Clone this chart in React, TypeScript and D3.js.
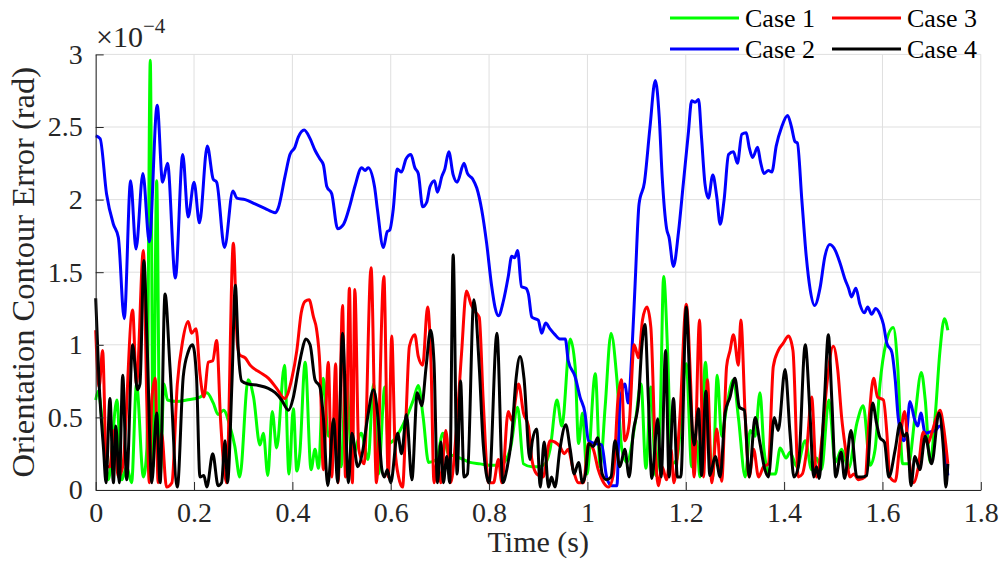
import { useRef, useEffect } from "react";
import * as d3 from "d3";

const WIDTH = 1007;
const HEIGHT = 582;
const PLOT = { left: 95.7, right: 980.8, top: 54.4, bottom: 490 };

const X_TICKS = [0, 0.2, 0.4, 0.6, 0.8, 1, 1.2, 1.4, 1.6, 1.8];
const Y_TICKS = [0, 0.5, 1, 1.5, 2, 2.5, 3];
const SERIES_NAMES = ["Case 1", "Case 2", "Case 3", "Case 4"];
const SERIES_COLORS = ["#00ff00", "#0000ff", "#ff0000", "#000000"];

// [time (s), error (x1e-4 rad)] read at the peaks and troughs of each trace
const case1: [number, number][] = [
  [0, 0.62], [0.005, 0.68], [0.016, 0.37], [0.026, 0.07], [0.043, 0.62], [0.053, 0.07], [0.063, 0.16],
  [0.073, 0.05], [0.083, 0.73], [0.097, 0.09], [0.104, 0.28], [0.111, 2.96], [0.117, 0.16], [0.124, 2.13],
  [0.131, 0.09], [0.139, 0.73], [0.146, 0.62], [0.165, 0.61], [0.185, 0.62], [0.212, 0.64], [0.226, 0.67],
  [0.239, 0.6], [0.249, 0.52], [0.26, 0.55], [0.273, 0.44], [0.283, 0.3], [0.293, 0.09], [0.31, 0.76],
  [0.321, 0.64], [0.334, 0.31], [0.341, 0.39], [0.35, 0.1], [0.359, 0.54], [0.368, 0.29], [0.384, 0.86],
  [0.393, 0.11], [0.402, 0.56], [0.409, 0.13], [0.415, 0.25], [0.426, 0.88], [0.438, 0.14], [0.446, 0.28],
  [0.453, 0.15], [0.463, 0.77], [0.473, 0.37], [0.487, 0.5], [0.499, 0.16], [0.509, 0.79], [0.521, 0.22],
  [0.54, 0.39], [0.554, 0.21], [0.565, 0.73], [0.575, 0.11], [0.588, 0.71], [0.595, 0.32], [0.605, 0.34],
  [0.619, 0.41], [0.632, 0.5], [0.646, 0.62], [0.656, 0.72], [0.666, 0.5], [0.677, 0.19], [0.693, 0.21],
  [0.706, 0.39], [0.717, 0.25], [0.734, 0.23], [0.748, 0.21], [0.761, 0.19], [0.782, 0.18], [0.802, 0.17],
  [0.822, 0.17], [0.843, 0.28], [0.858, 0.57], [0.87, 0.18], [0.887, 0.16], [0.9, 0.16], [0.914, 0.18],
  [0.924, 0.28], [0.938, 0.62], [0.948, 0.44], [0.965, 1.04], [0.975, 0.85], [0.982, 0.32], [0.99, 0.53],
  [0.999, 0.11], [1.016, 0.8], [1.026, 0.16], [1.036, 0.57], [1.048, 1.08], [1.06, 0.76], [1.07, 0.28],
  [1.08, 0.19], [1.097, 0.46], [1.109, 0.73], [1.119, 0.15], [1.129, 0.71], [1.139, 0.1], [1.148, 0.5],
  [1.155, 1.47], [1.163, 0.96], [1.171, 0.18], [1.182, 0.21], [1.201, 0.87], [1.212, 0.16], [1.222, 0.34],
  [1.229, 0.09], [1.24, 0.88], [1.249, 0.28], [1.255, 0.09], [1.264, 0.79], [1.273, 0.37], [1.283, 0.57],
  [1.297, 0.76], [1.307, 0.5], [1.321, 0.09], [1.331, 0.41], [1.341, 0.37], [1.351, 0.67], [1.359, 0.28],
  [1.37, 0.11], [1.382, 0.11], [1.392, 0.29], [1.404, 0.22], [1.412, 0.26], [1.426, 0.16], [1.443, 0.34],
  [1.456, 0.14], [1.466, 0.22], [1.476, 0.14], [1.491, 0.62], [1.504, 0.19], [1.517, 0.28], [1.531, 0.15],
  [1.548, 0.46], [1.561, 0.58], [1.575, 0.17], [1.585, 0.28], [1.595, 0.73], [1.607, 1.01], [1.622, 1.12],
  [1.631, 0.85], [1.641, 0.18], [1.653, 0.18], [1.666, 0.5], [1.679, 0.81], [1.687, 0.62], [1.697, 0.19],
  [1.707, 0.5], [1.717, 0.96], [1.726, 1.18], [1.733, 1.1],
];

const case2: [number, number][] = [
  [0, 2.44], [0.009, 2.42], [0.022, 2.04], [0.036, 1.83], [0.046, 1.74], [0.058, 1.18], [0.071, 2.13],
  [0.082, 1.66], [0.096, 2.18], [0.109, 1.71], [0.125, 2.65], [0.136, 2.12], [0.146, 2.25], [0.162, 1.46],
  [0.177, 2.31], [0.188, 1.88], [0.2, 2.12], [0.211, 1.84], [0.227, 2.37], [0.239, 2.14], [0.246, 2.12],
  [0.262, 1.67], [0.279, 2.06], [0.287, 2.01], [0.304, 2.0], [0.324, 1.97], [0.344, 1.94], [0.365, 1.91],
  [0.371, 1.94], [0.385, 2.16], [0.395, 2.31], [0.405, 2.36], [0.412, 2.43], [0.424, 2.48], [0.436, 2.42],
  [0.446, 2.34], [0.456, 2.28], [0.463, 2.24], [0.47, 2.09], [0.48, 2.04], [0.492, 1.8], [0.504, 1.83],
  [0.517, 1.96], [0.527, 2.09], [0.541, 2.22], [0.548, 2.2], [0.554, 2.22], [0.567, 2.09], [0.573, 1.93],
  [0.585, 1.67], [0.593, 1.78], [0.598, 1.79], [0.605, 1.93], [0.613, 2.21], [0.622, 2.19], [0.631, 2.28],
  [0.641, 2.31], [0.649, 2.22], [0.656, 2.18], [0.665, 1.95], [0.673, 1.98], [0.68, 2.09], [0.689, 2.13],
  [0.695, 2.05], [0.704, 2.16], [0.71, 2.21], [0.718, 2.33], [0.727, 2.17], [0.735, 2.12], [0.749, 2.25],
  [0.756, 2.18], [0.767, 2.14], [0.775, 2.08], [0.785, 1.93], [0.795, 1.7], [0.805, 1.41], [0.812, 1.26],
  [0.819, 1.2], [0.829, 1.3], [0.839, 1.47], [0.846, 1.61], [0.852, 1.6], [0.858, 1.65], [0.866, 1.4],
  [0.875, 1.39], [0.88, 1.35], [0.887, 1.19], [0.9, 1.17], [0.907, 1.08], [0.915, 1.15], [0.924, 1.11],
  [0.934, 1.07], [0.944, 1.04], [0.955, 1.04], [0.961, 0.89], [0.975, 0.78], [0.985, 0.64], [0.995, 0.53],
  [1.002, 0.34], [1.016, 0.32], [1.029, 0.31], [1.039, 0.09], [1.049, 0.03], [1.06, 0.03], [1.066, 0.6],
  [1.076, 0.73], [1.083, 0.6], [1.09, 0.92], [1.097, 1.42], [1.105, 1.97], [1.116, 2.12], [1.127, 2.49],
  [1.138, 2.82], [1.146, 2.57], [1.152, 2.16], [1.161, 1.8], [1.166, 1.74], [1.175, 1.54], [1.185, 1.77],
  [1.195, 2.11], [1.205, 2.45], [1.212, 2.68], [1.219, 2.67], [1.226, 2.69], [1.232, 2.43], [1.239, 2.11],
  [1.246, 2.01], [1.255, 2.17], [1.263, 2.02], [1.27, 1.83], [1.278, 2.0], [1.287, 2.31], [1.297, 2.33],
  [1.305, 2.25], [1.314, 2.45], [1.323, 2.46], [1.329, 2.36], [1.336, 2.29], [1.346, 2.36], [1.352, 2.26],
  [1.359, 2.18], [1.368, 2.2], [1.375, 2.19], [1.384, 2.37], [1.395, 2.5], [1.407, 2.58], [1.415, 2.5],
  [1.422, 2.4], [1.427, 2.39], [1.436, 2.0], [1.445, 1.61], [1.453, 1.38], [1.462, 1.27], [1.473, 1.39],
  [1.483, 1.61], [1.493, 1.69], [1.504, 1.65], [1.514, 1.56], [1.524, 1.45], [1.531, 1.39], [1.537, 1.33],
  [1.546, 1.39], [1.554, 1.28], [1.563, 1.22], [1.57, 1.26], [1.578, 1.21], [1.586, 1.25], [1.595, 1.21],
  [1.602, 1.14], [1.609, 1.01], [1.619, 0.95], [1.626, 0.76], [1.632, 0.5], [1.643, 0.34], [1.649, 0.39],
  [1.656, 0.61], [1.665, 0.49], [1.672, 0.44], [1.678, 0.53], [1.687, 0.39], [1.697, 0.4], [1.707, 0.41],
  [1.717, 0.44], [1.733, 0.1],
];

const case3: [number, number][] = [
  [0, 1.1], [0.007, 0.71], [0.014, 0.96], [0.022, 0.16], [0.029, 0.16], [0.037, 0.41], [0.046, 0.09],
  [0.055, 0.16], [0.075, 1.24], [0.083, 0.73], [0.097, 1.65], [0.104, 0.6], [0.109, 0.05], [0.114, 0.62],
  [0.121, 0.77], [0.127, 0.05], [0.134, 0.39], [0.144, 0.02], [0.155, 0.05], [0.166, 0.73], [0.177, 1.03],
  [0.188, 1.16], [0.195, 1.08], [0.204, 1.11], [0.212, 0.8], [0.22, 0.64], [0.229, 0.88], [0.238, 0.89],
  [0.246, 1.03], [0.254, 0.48], [0.266, 0.05], [0.28, 1.7], [0.288, 1.01], [0.293, 0.93], [0.304, 0.91],
  [0.314, 0.86], [0.334, 0.81], [0.351, 0.77], [0.368, 0.7], [0.384, 0.63], [0.399, 0.77], [0.409, 0.96],
  [0.418, 1.22], [0.426, 1.3], [0.434, 1.31], [0.443, 1.19], [0.449, 1.11], [0.456, 0.85], [0.463, 0.14],
  [0.473, 0.88], [0.48, 0.09], [0.488, 0.87], [0.493, 0.05], [0.502, 1.27], [0.508, 0.09], [0.516, 1.39],
  [0.522, 0.05], [0.527, 1.38], [0.535, 0.28], [0.546, 0.18], [0.56, 1.53], [0.571, 0.05], [0.586, 1.47],
  [0.595, 0.09], [0.602, 1.06], [0.609, 0.28], [0.616, 0.09], [0.624, 0.02], [0.631, 0.5], [0.638, 0.99],
  [0.649, 1.07], [0.656, 0.92], [0.665, 0.86], [0.675, 1.26], [0.682, 0.86], [0.688, 0.05], [0.695, 0.21],
  [0.702, 0.05], [0.712, 0.41], [0.722, 0.05], [0.733, 0.39], [0.744, 0.94], [0.754, 1.37], [0.763, 1.28],
  [0.771, 1.23], [0.78, 1.19], [0.788, 0.62], [0.799, 0.05], [0.809, 0.05], [0.819, 0.21], [0.826, 0.05],
  [0.839, 0.54], [0.846, 0.48], [0.86, 0.73], [0.87, 0.53], [0.88, 0.44], [0.887, 0.21], [0.897, 0.11],
  [0.91, 0.09], [0.924, 0.34], [0.934, 0.33], [0.944, 0.3], [0.953, 0.25], [0.961, 0.28], [0.971, 0.14],
  [0.982, 0.05], [0.992, 0.05], [1.002, 0.32], [1.012, 0.28], [1.022, 0.14], [1.033, 0.05], [1.043, 0.02],
  [1.053, 0.11], [1.062, 0.62], [1.069, 0.76], [1.076, 0.34], [1.085, 0.46], [1.095, 1.0], [1.104, 0.91],
  [1.112, 1.17], [1.121, 1.26], [1.129, 1.12], [1.138, 0.28], [1.144, 0.03], [1.152, 0.16], [1.161, 0.07],
  [1.17, 0.28], [1.176, 0.05], [1.188, 0.5], [1.201, 1.28], [1.21, 0.73], [1.217, 0.09], [1.228, 1.17],
  [1.236, 0.09], [1.244, 0.76], [1.253, 0.05], [1.263, 0.42], [1.273, 0.06], [1.283, 0.85], [1.29, 0.96],
  [1.297, 1.07], [1.307, 0.86], [1.312, 1.17], [1.321, 0.5], [1.329, 0.09], [1.338, 0.28], [1.348, 0.09],
  [1.358, 0.16], [1.368, 0.18], [1.378, 0.85], [1.388, 0.96], [1.398, 1.01], [1.409, 1.06], [1.418, 0.96],
  [1.429, 0.09], [1.437, 0.11], [1.446, 0.28], [1.456, 0.64], [1.466, 0.09], [1.478, 0.39], [1.487, 0.73],
  [1.5, 0.99], [1.509, 0.83], [1.517, 0.5], [1.525, 0.28], [1.534, 0.09], [1.542, 0.11], [1.551, 0.07],
  [1.565, 0.09], [1.573, 0.5], [1.582, 0.77], [1.59, 0.64], [1.602, 0.62], [1.609, 0.39], [1.615, 0.09],
  [1.626, 0.06], [1.636, 0.34], [1.645, 0.54], [1.653, 0.25], [1.663, 0.05], [1.673, 0.16], [1.683, 0.4],
  [1.692, 0.32], [1.7, 0.39], [1.708, 0.48], [1.717, 0.55], [1.724, 0.44], [1.733, 0.18],
];

const case4: [number, number][] = [
  [0, 1.32], [0.007, 0.73], [0.016, 0.28], [0.021, 0.05], [0.029, 0.63], [0.036, 0.05], [0.041, 0.44],
  [0.048, 0.05], [0.055, 0.79], [0.063, 0.07], [0.075, 1.0], [0.085, 0.69], [0.09, 0.73], [0.098, 1.58],
  [0.105, 0.96], [0.114, 0.05], [0.124, 0.53], [0.131, 0.05], [0.141, 1.35], [0.151, 0.85], [0.166, 0.02],
  [0.178, 0.78], [0.188, 0.95], [0.197, 1.0], [0.205, 0.78], [0.212, 0.09], [0.22, 0.1], [0.226, 0.02],
  [0.238, 0.25], [0.249, 0.03], [0.256, 0.05], [0.263, 0.34], [0.268, 0.05], [0.277, 0.73], [0.284, 1.41],
  [0.29, 0.96], [0.297, 0.75], [0.31, 0.73], [0.331, 0.72], [0.351, 0.7], [0.365, 0.67], [0.378, 0.62],
  [0.392, 0.55], [0.402, 0.64], [0.412, 0.83], [0.419, 0.95], [0.427, 1.04], [0.436, 1.0], [0.446, 0.76],
  [0.456, 0.71], [0.463, 0.5], [0.472, 0.03], [0.484, 0.49], [0.492, 0.05], [0.502, 1.08], [0.514, 0.05],
  [0.521, 0.39], [0.533, 0.16], [0.542, 0.25], [0.553, 0.5], [0.565, 0.69], [0.574, 0.5], [0.582, 0.14],
  [0.587, 0.09], [0.593, 0.14], [0.6, 0.05], [0.614, 0.39], [0.622, 0.25], [0.632, 0.52], [0.643, 0.07],
  [0.654, 0.67], [0.663, 0.58], [0.672, 0.85], [0.681, 1.1], [0.688, 0.88], [0.695, 0.05], [0.702, 0.33],
  [0.707, 0.05], [0.714, 0.23], [0.72, 0.05], [0.727, 1.62], [0.735, 0.11], [0.742, 0.75], [0.749, 0.09],
  [0.756, 0.11], [0.769, 1.31], [0.78, 0.85], [0.788, 0.32], [0.8, 0.05], [0.816, 1.08], [0.828, 0.05],
  [0.836, 0.14], [0.846, 0.37], [0.855, 0.77], [0.863, 0.92], [0.871, 0.77], [0.883, 0.21], [0.888, 0.34],
  [0.897, 0.42], [0.904, 0.02], [0.912, 0.33], [0.921, 0.02], [0.927, 0.09], [0.934, 0.02], [0.944, 0.28],
  [0.956, 0.45], [0.965, 0.28], [0.973, 0.11], [0.982, 0.19], [0.99, 0.05], [0.996, 0.11], [1.003, 0.32],
  [1.012, 0.3], [1.021, 0.36], [1.03, 0.11], [1.039, 0.07], [1.048, 0.09], [1.056, 0.34], [1.066, 0.16],
  [1.076, 0.28], [1.085, 0.09], [1.093, 0.39], [1.104, 0.62], [1.11, 0.96], [1.117, 1.14], [1.124, 0.62],
  [1.131, 0.08], [1.143, 0.49], [1.15, 0.09], [1.159, 0.96], [1.166, 0.09], [1.175, 0.63], [1.183, 0.09],
  [1.19, 0.09], [1.201, 1.26], [1.209, 0.67], [1.217, 0.31], [1.226, 0.56], [1.232, 0.1], [1.241, 0.68],
  [1.249, 0.1], [1.26, 0.23], [1.27, 0.09], [1.28, 0.53], [1.29, 0.64], [1.3, 0.77], [1.309, 0.57],
  [1.319, 0.55], [1.329, 0.09], [1.341, 0.5], [1.35, 0.34], [1.361, 0.14], [1.368, 0.09], [1.38, 0.5],
  [1.388, 0.41], [1.402, 0.83], [1.412, 0.39], [1.42, 0.09], [1.429, 0.16], [1.443, 1.0], [1.453, 0.5],
  [1.46, 0.09], [1.466, 0.16], [1.471, 0.08], [1.482, 0.62], [1.49, 1.07], [1.497, 0.62], [1.505, 0.09],
  [1.516, 0.26], [1.523, 0.08], [1.536, 0.41], [1.548, 0.09], [1.558, 0.09], [1.568, 0.1], [1.58, 0.6],
  [1.588, 0.46], [1.595, 0.36], [1.604, 0.33], [1.613, 0.09], [1.626, 0.28], [1.636, 0.46], [1.643, 0.37],
  [1.65, 0.39], [1.658, 0.03], [1.666, 0.23], [1.676, 0.14], [1.687, 0.37], [1.7, 0.18], [1.715, 0.53],
  [1.724, 0.28], [1.729, 0.02], [1.733, 0.18],
];

const SERIES = [case1, case2, case3, case4];

const FONT = "'Liberation Serif', 'Times New Roman', serif";
const TEXT = "#262626";
const GRID = "#dfdfdf";

export default function App() {
  const svgRef = useRef<SVGSVGElement>(null);

  useEffect(() => {
    const svg = d3.select(svgRef.current);
    svg.selectAll("*").remove();

    const x = d3.scaleLinear().domain([0, 1.8]).range([PLOT.left, PLOT.right]);
    const y = d3.scaleLinear().domain([0, 3]).range([PLOT.bottom, PLOT.top]);

    // grid
    const grid = svg.append("g").attr("stroke", GRID).attr("stroke-width", 1);
    grid.selectAll("line.gx")
      .data(X_TICKS)
      .join("line")
      .attr("class", "gx")
      .attr("x1", (d) => x(d)).attr("x2", (d) => x(d))
      .attr("y1", PLOT.top).attr("y2", PLOT.bottom);
    grid.selectAll("line.gy")
      .data(Y_TICKS)
      .join("line")
      .attr("class", "gy")
      .attr("x1", PLOT.left).attr("x2", PLOT.right)
      .attr("y1", (d) => y(d)).attr("y2", (d) => y(d));

    // traces
    const line = d3.line<[number, number]>()
      .x((d) => x(d[0]))
      .y((d) => y(d[1]))
      .curve(d3.curveMonotoneX);

    SERIES.forEach((s, i) => {
      svg.append("path")
        .attr("d", line(s))
        .attr("fill", "none")
        .attr("stroke", SERIES_COLORS[i])
        .attr("stroke-width", 3)
        .attr("stroke-linejoin", "round");
    });

    // axes
    const xAxis = svg.append("g")
      .attr("transform", `translate(0,${PLOT.bottom})`)
      .call(d3.axisBottom(x).tickValues(X_TICKS).tickSizeInner(-8).tickSizeOuter(0).tickPadding(12)
        .tickFormat((d) => d3.format("~g")(d as number)));
    const yAxis = svg.append("g")
      .attr("transform", `translate(${PLOT.left},0)`)
      .call(d3.axisLeft(y).tickValues(Y_TICKS).tickSizeInner(-8).tickSizeOuter(0).tickPadding(13)
        .tickFormat((d) => d3.format("~g")(d as number)));
    [xAxis, yAxis].forEach((a) => {
      a.select(".domain").attr("stroke", TEXT);
      a.selectAll(".tick line").attr("stroke", TEXT);
      a.selectAll(".tick text")
        .attr("fill", TEXT)
        .attr("font-family", FONT)
        .attr("font-size", 28);
    });

    // exponent
    const expo = svg.append("text")
      .attr("x", 96).attr("y", 47)
      .attr("font-family", FONT).attr("font-size", 30).attr("fill", TEXT);
    expo.append("tspan").text("\u00d710");
    expo.append("tspan").attr("dy", -14).attr("font-size", 21).text("\u22124");

    // labels
    svg.append("text")
      .attr("x", (PLOT.left + PLOT.right) / 2).attr("y", 552)
      .attr("text-anchor", "middle")
      .attr("font-family", FONT).attr("font-size", 30).attr("fill", TEXT)
      .text("Time (s)");
    svg.append("text")
      .attr("transform", `translate(34,${(PLOT.top + PLOT.bottom) / 2}) rotate(-90)`)
      .attr("text-anchor", "middle")
      .attr("font-family", FONT).attr("font-size", 32.5).attr("fill", TEXT)
      .text("Orientation Contour Error (rad)");

    // legend, two columns
    const legendCols = [670, 832];
    const legendRows = [18, 49];
    SERIES_NAMES.forEach((name, i) => {
      const cx = legendCols[Math.floor(i / 2)];
      const cy = legendRows[i % 2];
      svg.append("line")
        .attr("x1", cx).attr("x2", cx + 69)
        .attr("y1", cy).attr("y2", cy)
        .attr("stroke", SERIES_COLORS[i]).attr("stroke-width", 3);
      svg.append("text")
        .attr("x", cx + 75).attr("y", cy + 9)
        .attr("font-family", FONT).attr("font-size", 26).attr("fill", "#000")
        .text(name);
    });
  }, []);

  return (
    <svg
      ref={svgRef}
      width={WIDTH}
      height={HEIGHT}
      viewBox={`0 0 ${WIDTH} ${HEIGHT}`}
      style={{ position: "absolute", left: 0, top: 0, background: "#fff" }}
    />
  );
}
